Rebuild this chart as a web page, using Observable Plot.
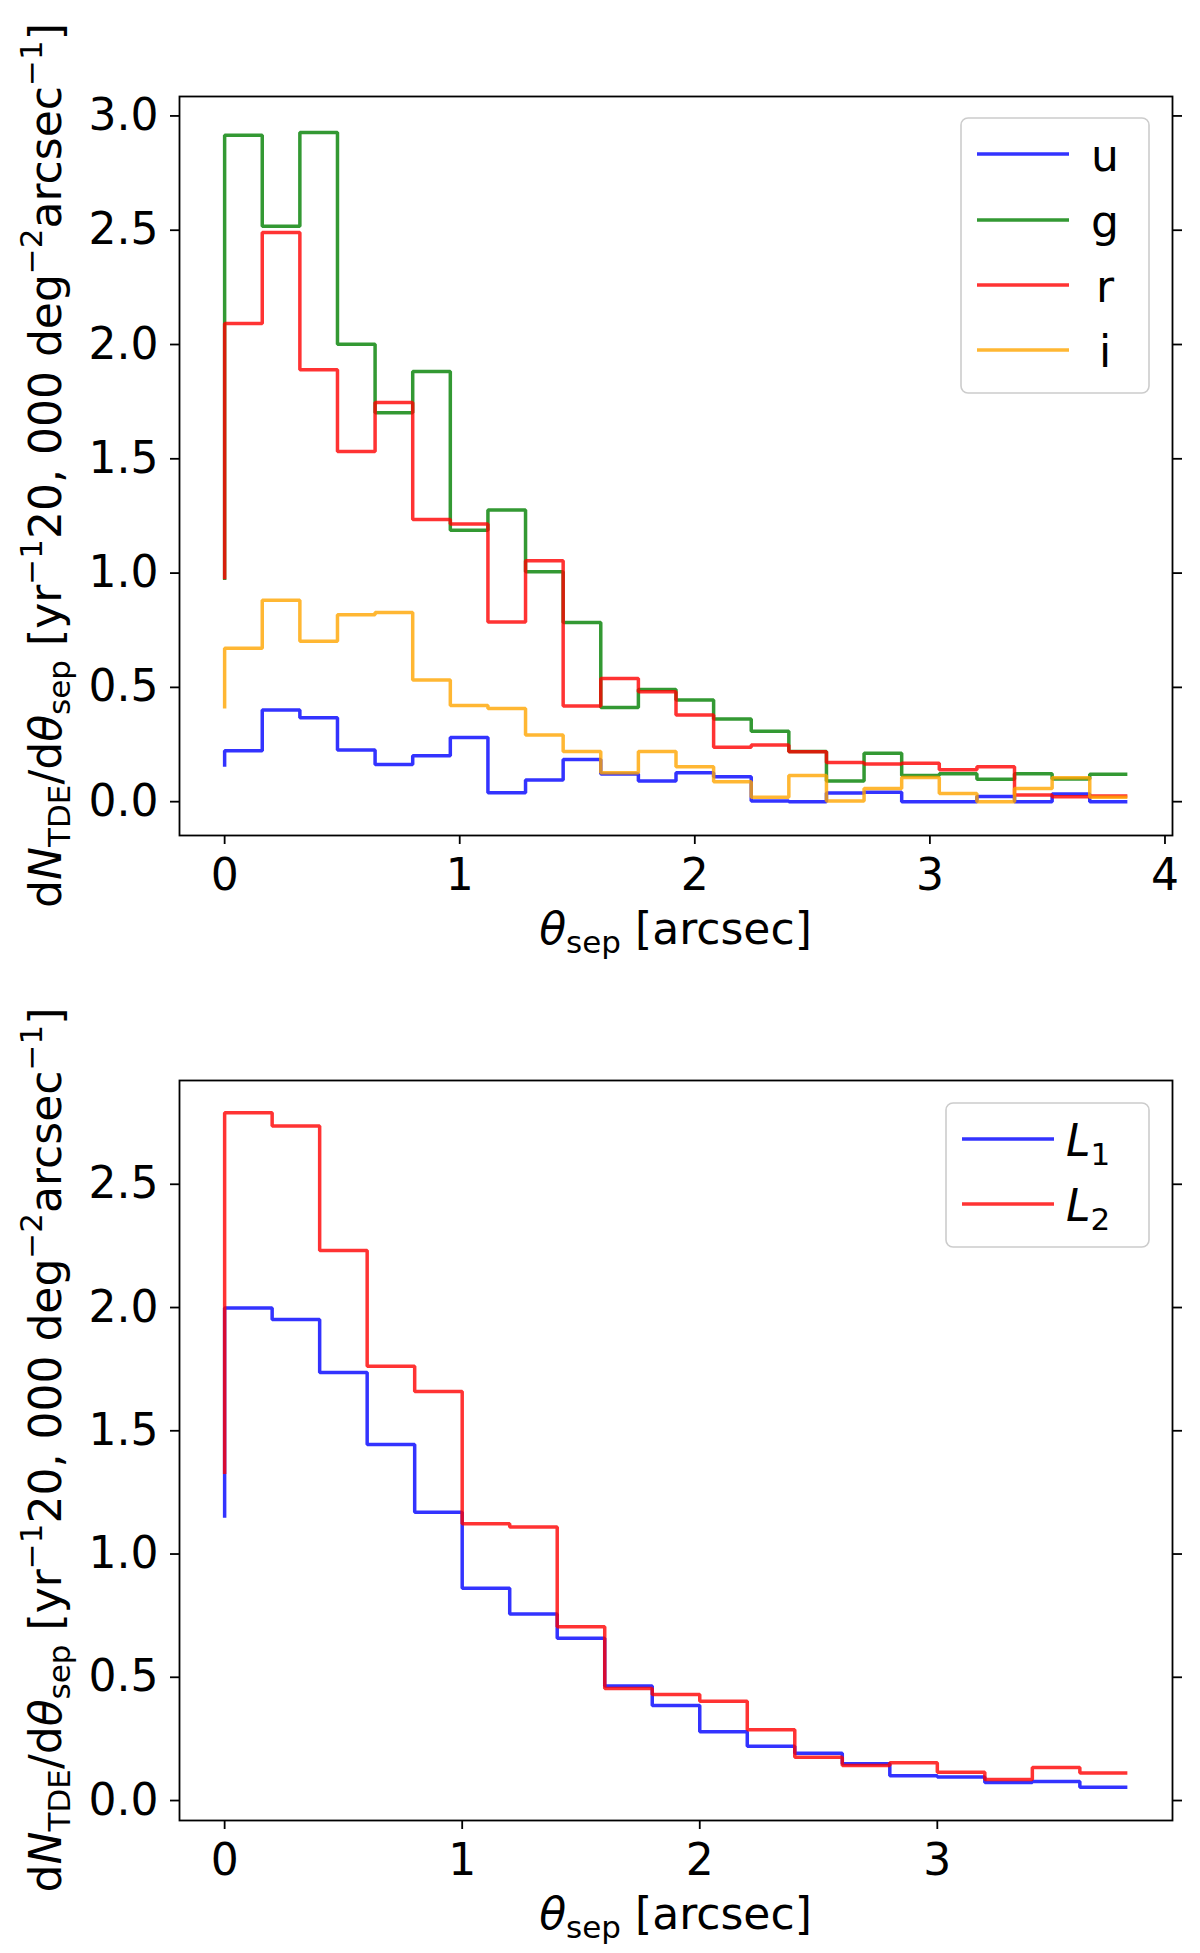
<!DOCTYPE html>
<html>
<head>
<meta charset="utf-8">
<script src="https://cdn.jsdelivr.net/npm/d3@7"></script>
<script src="https://cdn.jsdelivr.net/npm/@observablehq/plot@0.6"></script>
<style>
  html, body { margin: 0; padding: 0; background: white; }
  #top, #bottom { display: block; width: 1200px; }
  svg { display: block; }
</style>
</head>
<body>
<div id="top"></div>
<div id="bottom"></div>
<script>
// ---------- Top panel data (bin edges in arcsec; first value is the start level at 0) ----------
const edgesTop = [0, 0.16, 0.32, 0.48, 0.64, 0.80, 0.96, 1.12, 1.28, 1.44, 1.60, 1.76, 1.92,
                  2.08, 2.24, 2.40, 2.56, 2.72, 2.88, 3.04, 3.20, 3.36, 3.52, 3.68, 3.84];
const bandNames = ["u", "g", "r", "i"];
const bandColors = ["#0000ff", "#008000", "#ff0000", "#ffa500"];
const uVals = [0.153, 0.223, 0.401, 0.367, 0.226, 0.163, 0.201, 0.281, 0.039, 0.095, 0.185, 0.121, 0.090,
               0.127, 0.109, 0.003, 0.0, 0.038, 0.041, 0.0, 0.0, 0.023, 0.0, 0.034, 0.0];
const gVals = [0.97, 2.916, 2.517, 2.927, 2.001, 1.701, 1.882, 1.187, 1.276, 1.006, 0.784, 0.412, 0.491,
               0.445, 0.362, 0.308, 0.220, 0.090, 0.212, 0.114, 0.122, 0.098, 0.122, 0.099, 0.120];
const rVals = [0.973, 2.092, 2.490, 1.890, 1.532, 1.746, 1.234, 1.215, 0.786, 1.054, 0.418, 0.539, 0.481,
               0.379, 0.238, 0.248, 0.218, 0.171, 0.165, 0.168, 0.140, 0.153, 0.029, 0.022, 0.025];
const iVals = [0.408, 0.671, 0.881, 0.702, 0.818, 0.828, 0.532, 0.421, 0.408, 0.292, 0.219, 0.127, 0.219,
               0.153, 0.087, 0.019, 0.115, 0.003, 0.058, 0.106, 0.036, 0.0, 0.058, 0.105, 0.019];
const xTicksTop = [0, 1, 2, 3, 4];
const yTicksTop = [0, 0.5, 1.0, 1.5, 2.0, 2.5, 3.0];

// ---------- Bottom panel data ----------
const edgesBottom = [0, 0.2, 0.4, 0.6, 0.8, 1.0, 1.2, 1.4, 1.6, 1.8, 2.0,
                     2.2, 2.4, 2.6, 2.8, 3.0, 3.2, 3.4, 3.6, 3.8];
const lumNames = ["L1", "L2"];
const lumColors = ["#0000ff", "#ff0000"];
const L1Vals = [1.147, 1.998, 1.951, 1.736, 1.444, 1.170, 0.861, 0.757, 0.658, 0.465, 0.386,
                0.279, 0.220, 0.192, 0.149, 0.101, 0.095, 0.073, 0.077, 0.054];
const L2Vals = [1.325, 2.790, 2.736, 2.231, 1.762, 1.659, 1.123, 1.110, 0.705, 0.455, 0.430,
                0.403, 0.287, 0.176, 0.142, 0.153, 0.115, 0.085, 0.134, 0.112];
const xTicksBottom = [0, 1, 2, 3];
const yTicksBottom = [0, 0.5, 1.0, 1.5, 2.0, 2.5];

// ---------- build tables ----------
const topSeries = [uVals, gVals, rVals, iVals];
const topData = [];
topSeries.forEach((vals, k) => vals.forEach((v, j) => topData.push({band: bandNames[k], order: k, x: edgesTop[j], y: v})));
const botSeries = [L1Vals, L2Vals];
const botData = [];
botSeries.forEach((vals, k) => vals.forEach((v, j) => botData.push({band: lumNames[k], order: k, x: edgesBottom[j], y: v})));

const FONT = "DejaVu Sans";
const FS = 44;
const ALPHA = 0.8;
const LW = 3.5;

function panel(data, names, colors, xDomain, yDomain, xTicks, yTicks, height, mTop, mBottom) {
  const lineMarks = names.map((n, k) => Plot.line(data.filter(d => d.band === n), {
    x: "x", y: "y", stroke: colors[k], strokeOpacity: ALPHA, strokeWidth: LW,
    curve: "step-before", strokeLinejoin: "miter", strokeLinecap: "butt"
  }));
  return Plot.plot({
    width: 1200, height,
    marginTop: mTop, marginBottom: mBottom, marginLeft: 179, marginRight: 28,
    style: {fontFamily: FONT, fontSize: FS + "px", background: "white", color: "black"},
    x: {domain: xDomain, label: null},
    y: {domain: yDomain, label: null},
    marks: [
      ...lineMarks,
      Plot.frame({stroke: "black", strokeWidth: 1.8}),
      Plot.axisX({ticks: xTicks, tickSize: 9, tickPadding: 14, fontSize: FS, strokeWidth: 1.8,
                  tickFormat: d => String(d), label: null}),
      Plot.axisY({ticks: yTicks, tickSize: 9, tickPadding: 12, fontSize: FS, strokeWidth: 1.8,
                  tickFormat: d3.format(".1f"), label: null}),
      Plot.axisY({anchor: "right", ticks: yTicks, tickSize: 9, strokeWidth: 1.8,
                  tickFormat: () => "", label: null})
    ]
  });
}

function addRuns(textSel, runs) {
  let shift = 0;
  runs.forEach(([txt, kind]) => {
    const ts = textSel.append("tspan").text(txt);
    let target = 0;
    if (kind === "sub") { target = 9; ts.attr("font-size", 31); }
    else if (kind === "sup") { target = -19; ts.attr("font-size", 31); }
    if (kind === "i") ts.attr("font-style", "italic");
    const dy = target - shift;
    if (dy !== 0) ts.attr("dy", dy);
    shift = target;
  });
}

const yLabelRuns = [["d", "n"], ["N", "i"], ["TDE", "sub"], ["/d", "n"], ["θ", "i"], ["sep", "sub"],
  [" [yr", "n"], ["−1", "sup"], ["20, 000 deg", "n"], ["−2", "sup"], ["arcsec", "n"], ["−1", "sup"], ["]", "n"]];
const xLabelRuns = [["θ", "i"], ["sep", "sub"], [" [arcsec]", "n"]];

function decorate(svgNode, frameTop, frameBottom, xLabelBaseline) {
  const svg = d3.select(svgNode);
  const cy = (frameTop + frameBottom) / 2;
  const yl = svg.append("text")
    .attr("transform", `translate(61,${cy}) rotate(-90)`)
    .attr("text-anchor", "middle")
    .attr("font-family", FONT).attr("font-size", FS).attr("fill", "black")
    .style("white-space", "pre");
  addRuns(yl, yLabelRuns);
  const xl = svg.append("text")
    .attr("x", 675.5).attr("y", xLabelBaseline)
    .attr("text-anchor", "middle")
    .attr("font-family", FONT).attr("font-size", FS).attr("fill", "black")
    .style("white-space", "pre");
  addRuns(xl, xLabelRuns);
  return svg;
}

function legend(svg, box, lineX0, lineX1, textX, ys, names, colors, labelRuns) {
  const g = svg.append("g");
  g.append("rect").attr("x", box[0]).attr("y", box[1]).attr("width", box[2]).attr("height", box[3])
    .attr("rx", 7).attr("fill", "white").attr("fill-opacity", 0.8)
    .attr("stroke", "#cccccc").attr("stroke-width", 1.6);
  names.forEach((n, k) => {
    g.append("line").attr("x1", lineX0).attr("x2", lineX1).attr("y1", ys[k]).attr("y2", ys[k])
      .attr("stroke", colors[k]).attr("stroke-opacity", ALPHA).attr("stroke-width", LW);
    const t = g.append("text").attr("x", textX).attr("y", ys[k] + 17)
      .attr("font-family", FONT).attr("font-size", FS).attr("fill", "black");
    addRuns(t, labelRuns[k]);
  });
}

// ---------- top panel ----------
const topH = 977;
const topPlot = panel(topData, bandNames, bandColors, [-0.192, 4.032], [-0.148, 3.085],
                      xTicksTop, yTicksTop, topH, 96, topH - 835);
document.getElementById("top").appendChild(topPlot);
const topSvg = decorate(topPlot, 96, 835, 944);
legend(topSvg, [961, 118, 188, 275], 977, 1069, 1105, [154, 220, 285, 350],
       bandNames, bandColors, bandNames.map(n => [[n, "n"]]));

// ---------- bottom panel ----------
const botH = 1953 - topH;
const botPlot = panel(botData, lumNames, lumColors, [-0.19, 3.99], [-0.081, 2.921],
                      xTicksBottom, yTicksBottom, botH, 1080 - topH, botH - (1820 - topH));
document.getElementById("bottom").appendChild(botPlot);
const botSvg = decorate(botPlot, 1080 - topH, 1820 - topH, 1929 - topH);
legend(botSvg, [946, 1103 - topH, 203, 144], 962, 1054, 1088, [1139 - topH, 1204 - topH],
       lumNames, lumColors, [[["L", "i"], ["1", "sub"]], [["L", "i"], ["2", "sub"]]]);
</script>
</body>
</html>
